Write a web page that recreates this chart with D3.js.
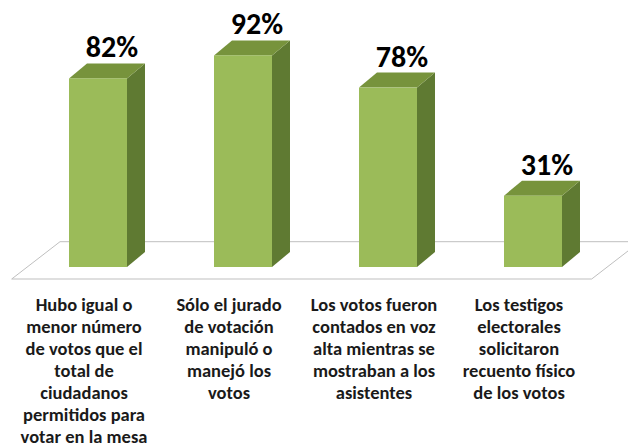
<!DOCTYPE html>
<html>
<head>
<meta charset="utf-8">
<script src="https://cdn.jsdelivr.net/npm/d3@7"></script>
<style>
	body { margin: 0; background: #fff; }
	svg { display: block; }
	.pct { font-family: Carlito, Lato, sans-serif; font-weight: bold; fill: #000; }
	.cat { font-family: Carlito, Lato, sans-serif; font-weight: bold; fill: #1a1a1a; }
</style>
</head>
<body>
<div id="chart"></div>
<script>
// data
const categories = ['c1', 'c2', 'c3', 'c4'];
const values = [82, 92, 78, 31];
const valueLabels = ['82%', '92%', '78%', '31%'];
const categoryLabels = [
	['Hubo igual o', 'menor número', 'de votos que el', 'total de', 'ciudadanos', 'permitidos para', 'votar en la mesa'],
	['Sólo el jurado', 'de votación', 'manipuló o', 'manejó los', 'votos'],
	['Los votos fueron', 'contados en voz', 'alta mientras se', 'mostraban a los', 'asistentes'],
	['Los testigos', 'electorales', 'solicitaron', 'recuento físico', 'de los votos']
];

const width = 628;
const height = 445;

// 3d look
const depthX = 18;
const depthY = 15;
const colors = { front: '#9bbb59', top: '#77933c', side: '#5f7a32' };

const svg = d3
	.select('#chart')
	.append('svg')
	.attr('width', width)
	.attr('height', height);

const x = d3.scaleBand().domain(categories).range([25.5, 605.5]).paddingInner(0.6).paddingOuter(0.3);
const y = d3.scaleLinear().domain([0, 100]).range([267, 37]);

// floor (drawn behind the bars)
const floorBack = 241.7;
const floorFront = 279;
svg.append('path')
	.attr('d', `M11.7,${floorFront} L60,${floorBack} L640,${floorBack} L591.7,${floorFront} Z`)
	.attr('fill', 'none')
	.attr('stroke', '#bfbfbf')
	.attr('stroke-width', 1);

const bars = svg
	.selectAll('.bar')
	.data(categories)
	.enter()
	.append('g')
	.attr('class', 'bar');

// side face
bars.append('path')
	.attr('fill', colors.side)
	.attr('d', (d, i) => {
		const x1 = x(d) + x.bandwidth();
		const yt = y(values[i]);
		const yb = y(0);
		return `M${x1},${yt} L${x1 + depthX},${yt - depthY} L${x1 + depthX},${yb - depthY} L${x1},${yb} Z`;
	});

// top face
bars.append('path')
	.attr('fill', colors.top)
	.attr('d', (d, i) => {
		const x0 = x(d);
		const x1 = x0 + x.bandwidth();
		const yt = y(values[i]);
		return `M${x0},${yt} L${x0 + depthX},${yt - depthY} L${x1 + depthX},${yt - depthY} L${x1},${yt} Z`;
	});

// front face
bars.append('rect')
	.attr('fill', colors.front)
	.attr('x', (d) => x(d))
	.attr('y', (d, i) => y(values[i]))
	.attr('width', x.bandwidth())
	.attr('height', (d, i) => y(0) - y(values[i]));

// value labels
svg.selectAll('.pct')
	.data(categories)
	.enter()
	.append('text')
	.attr('class', 'pct')
	.attr('x', (d) => x(d) + x.bandwidth() / 2 + 14)
	.attr('y', (d, i) => y(values[i]) - 21)
	.attr('text-anchor', 'middle')
	.attr('font-size', 30)
	.text((d, i) => valueLabels[i]);

// category labels
const catText = svg
	.selectAll('.cat')
	.data(categories)
	.enter()
	.append('text')
	.attr('class', 'cat')
	.attr('text-anchor', 'middle')
	.attr('font-size', 18.5);

catText
	.selectAll('tspan')
	.data((d, i) => categoryLabels[i].map((line) => ({ line, cx: x(d) + x.bandwidth() / 2 - 14 })))
	.enter()
	.append('tspan')
	.attr('x', (d) => d.cx)
	.attr('y', (d, j) => 311 + j * 22)
	.text((d) => d.line);
</script>
</body>
</html>
